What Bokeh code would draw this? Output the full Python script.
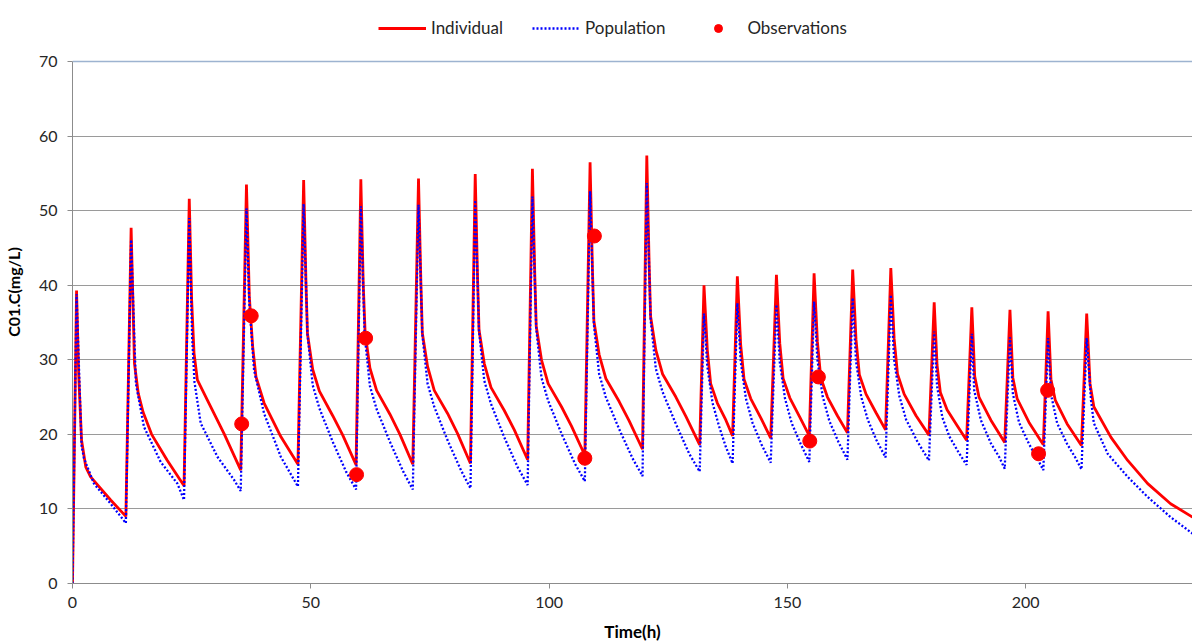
from bokeh.plotting import figure
from bokeh.models import Legend, LegendItem, Span, FixedTicker, Range1d
from bokeh.embed import file_html
from bokeh.resources import INLINE

# ---------------- data ----------------
ind_time = [0, 0.85, 1.3, 1.9, 2.8, 3.8, 8.0, 11.2,
            12.3, 13.0, 13.8, 14.8, 16.6, 19.9, 23.4,
            24.5, 25.0, 25.5, 26.2, 28.3, 31.8, 35.3,
            36.5, 37.1, 37.8, 38.5, 40.2, 43.7, 47.3,
            48.5, 49.0, 49.3, 50.4, 51.8, 54.6, 56.7, 59.5,
            60.5, 61.0, 61.4, 62.4, 63.8, 66.6, 68.7, 71.4,
            72.6, 73.1, 73.4, 74.5, 75.9, 78.7, 80.8, 83.5,
            84.5, 85.0, 85.3, 86.4, 87.8, 90.6, 92.7, 95.5,
            96.5, 97.0, 97.3, 98.4, 99.8, 102.6, 104.7, 107.5,
            108.6, 109.1, 109.4, 110.5, 111.9, 114.7, 116.8, 119.6,
            120.5, 121.0, 121.3, 122.4, 123.8, 126.6, 128.7, 131.6,
            132.5, 133.2, 133.9, 135.3, 137.1, 138.5,
            139.5, 140.2, 140.9, 142.3, 144.5, 146.5,
            147.7, 148.4, 149.1, 150.5, 152.6, 154.6,
            155.6, 156.3, 157.0, 158.4, 160.5, 162.6,
            163.7, 164.4, 165.1, 166.5, 168.6, 170.6,
            171.7, 172.4, 173.1, 174.5, 177.0, 179.7,
            180.8, 181.4, 182.1, 183.5, 185.5, 187.6,
            188.7, 189.3, 190.2, 192.7, 195.6,
            196.7, 197.3, 198.2, 200.7, 203.7,
            204.7, 205.3, 206.2, 208.7, 211.7,
            212.8, 213.5, 214.3, 217.9, 221.4, 225.6, 230.4, 235.0]
ind_conc = [0, 39.3, 28.0, 19.2, 15.6, 14.3, 11.2, 9.0,
            47.7, 29.5, 25.5, 23.0, 20.0, 16.5, 13.1,
            51.6, 38.0, 30.9, 27.3, 24.6, 20.1, 15.2,
            53.5, 38.5, 31.8, 27.7, 24.2, 19.7, 16.0,
            54.1, 40.0, 33.5, 28.7, 25.8, 22.5, 19.9, 15.9,
            54.2, 40.2, 33.6, 28.9, 25.9, 22.7, 20.0, 16.0,
            54.3, 40.3, 33.6, 29.1, 25.9, 22.8, 20.1, 16.1,
            54.9, 40.7, 34.0, 29.5, 26.3, 23.2, 20.6, 16.6,
            55.6, 41.3, 34.5, 30.0, 26.8, 23.7, 21.1, 17.2,
            56.5, 42.0, 35.2, 30.7, 27.5, 24.4, 21.8, 18.0,
            57.4, 42.6, 35.8, 31.3, 28.1, 25.0, 22.4, 18.6,
            40.0, 31.3, 26.8, 24.2, 21.9, 19.8,
            41.2, 32.0, 27.4, 24.8, 22.1, 19.5,
            41.4, 32.2, 27.5, 24.9, 22.3, 19.8,
            41.6, 32.4, 27.6, 25.0, 22.5, 20.2,
            42.1, 32.7, 28.0, 25.4, 22.9, 20.6,
            42.3, 32.8, 28.1, 25.4, 22.5, 19.9,
            37.7, 29.3, 25.6, 23.3, 21.3, 19.2,
            37.05, 27.8, 25.0, 21.9, 18.9,
            36.7, 27.6, 24.8, 21.6, 18.6,
            36.5, 27.4, 24.6, 21.4, 18.5,
            36.2, 26.8, 23.7, 19.6, 16.5, 13.4, 10.7, 8.9]

pop_time = [0, 0.85, 1.9, 2.4, 4.5, 8.0, 11.2,
            12.3, 13.3, 15.0, 18.5, 22.0, 23.4,
            24.5, 25.1, 25.6, 26.9, 30.4, 33.9, 35.3,
            36.5, 37.1, 38.1, 40.2, 43.7, 47.3,
            48.5, 49.3, 50.4, 51.8, 54.6, 57.4, 59.5,
            60.5, 61.3, 62.4, 63.8, 66.6, 69.4, 71.4,
            72.6, 73.4, 74.5, 75.9, 78.7, 81.5, 83.5,
            84.5, 85.3, 86.4, 87.8, 90.6, 93.4, 95.5,
            96.5, 97.3, 98.4, 99.8, 102.6, 105.4, 107.5,
            108.6, 109.4, 110.5, 111.9, 114.7, 117.5, 119.6,
            120.5, 121.3, 122.4, 123.8, 126.6, 129.4, 131.6,
            132.5, 133.2, 134.3, 135.7, 137.1, 138.5,
            139.5, 140.2, 141.3, 142.7, 144.6, 146.5,
            147.7, 148.4, 149.5, 150.9, 152.8, 154.6,
            155.6, 156.3, 157.4, 158.8, 160.7, 162.6,
            163.7, 164.4, 165.5, 166.9, 168.7, 170.6,
            171.7, 172.4, 173.5, 174.9, 177.3, 179.7,
            180.8, 181.4, 182.5, 184.0, 185.9, 187.6,
            188.7, 189.2, 190.6, 192.7, 194.4, 195.6,
            196.7, 197.3, 198.6, 200.7, 202.4, 203.7,
            204.7, 205.3, 206.6, 208.7, 210.4, 211.7,
            212.8, 213.7, 214.3, 217.2, 221.4, 225.6, 230.4, 235.0]
pop_conc = [0, 38.8, 18.5, 16.8, 13.4, 10.7, 8.1,
            46.1, 26.8, 21.0, 16.3, 13.4, 11.2,
            49.0, 33.0, 27.0, 21.5, 17.0, 13.9, 12.4,
            50.3, 37.6, 28.6, 22.8, 17.0, 13.0,
            50.9, 33.5, 26.6, 23.5, 19.0, 15.0, 12.6,
            50.6, 33.3, 26.5, 23.4, 19.0, 15.0, 12.6,
            50.8, 33.4, 26.8, 23.7, 19.2, 15.2, 12.75,
            51.4, 33.8, 27.2, 24.1, 19.6, 15.6, 13.2,
            51.9, 34.2, 27.6, 24.5, 20.1, 16.1, 13.7,
            52.6, 34.7, 28.1, 25.0, 20.7, 16.8, 14.4,
            53.7, 35.4, 28.8, 25.7, 21.4, 17.4, 15.0,
            36.2, 29.1, 24.2, 21.0, 18.3, 16.1,
            37.6, 29.8, 24.8, 21.5, 18.6, 16.2,
            37.4, 29.7, 24.8, 21.5, 18.7, 16.3,
            37.8, 30.0, 25.1, 21.8, 19.0, 16.6,
            38.3, 29.8, 25.0, 21.9, 19.2, 16.9,
            38.7, 30.0, 25.1, 22.0, 19.0, 16.5,
            33.8, 26.5, 22.3, 19.7, 17.6, 15.9,
            33.5, 25.9, 21.9, 18.8, 17.0, 15.4,
            33.0, 25.5, 21.6, 18.7, 16.8, 15.2,
            32.9, 25.4, 21.5, 18.7, 16.9, 15.3,
            32.9, 24.6, 21.5, 17.4, 14.3, 11.6, 8.9, 6.7]

obs_time = [35.5, 37.5, 59.6, 61.5, 107.5, 109.5, 154.7, 156.5, 202.7, 204.6]
obs_conc = [21.4, 35.9, 14.6, 32.9, 16.8, 46.6, 19.1, 27.7, 17.4, 25.9]

x_ticks = [0, 50, 100, 150, 200]
y_ticks = [0, 10, 20, 30, 40, 50, 60, 70]

FONT = "Lato"

# frame reaches the top of the page so the legend can sit above the 70 line
p = figure(width=1192, height=644, output_backend="svg", toolbar_location=None,
           x_range=Range1d(0, 235), y_range=Range1d(0, 78.18),
           min_border_left=71, min_border_right=0, min_border_top=0,
           min_border_bottom=61)
p.outline_line_color = None
p.background_fill_color = "white"
p.border_fill_color = "white"

r_ind = p.line(ind_time, ind_conc, line_color="#FF0000", line_width=2.8)
r_pop = p.line(pop_time, pop_conc, line_color="#0000FF", line_width=2.3,
               line_dash="2 2")
r_obs = p.scatter(obs_time, obs_conc, size=14, fill_color="#FF0000",
                  line_color="#FF0000")

p.add_layout(Span(location=70, dimension="width", line_color="#9DB3D0",
                  line_width=1.5))

p.xgrid.grid_line_color = None
p.ygrid.grid_line_color = "#9A9A9A"
p.ygrid.grid_line_width = 1

p.xaxis.ticker = FixedTicker(ticks=x_ticks)
p.yaxis.ticker = FixedTicker(ticks=y_ticks)
p.yaxis.bounds = (0, 70)
for ax in (p.xaxis[0], p.yaxis[0]):
    ax.axis_line_color = "#8C8C8C"
    ax.major_tick_line_color = "#8C8C8C"
    ax.major_tick_out = 5
    ax.major_tick_in = 0
    ax.minor_tick_line_color = None
    ax.major_label_text_font = FONT
    ax.major_label_text_font_size = "16px"
    ax.major_label_text_color = "#262626"
    ax.axis_label_text_font = FONT
    ax.axis_label_text_font_style = "bold"
    ax.axis_label_text_color = "#000000"
p.xaxis.axis_label = "Time(h)"
p.yaxis.axis_label = "C01.C(mg/L)"
p.xaxis.axis_label_text_font_size = "17px"
p.yaxis.axis_label_text_font_size = "16px"
p.xaxis.major_label_standoff = 8
p.xaxis.axis_label_standoff = 10
p.yaxis.major_label_standoff = 10
p.yaxis.axis_label_standoff = 13

legend = Legend(items=[LegendItem(label="Individual", renderers=[r_ind]),
                       LegendItem(label="Population", renderers=[r_pop]),
                       LegendItem(label="Observations", renderers=[r_obs])],
                orientation="horizontal", location=(306, 545),
                border_line_color=None, background_fill_alpha=0,
                glyph_width=48, glyph_height=20, label_standoff=5,
                spacing=29, padding=5, margin=0,
                label_text_font=FONT, label_text_font_size="17px",
                label_text_color="#262626")
p.add_layout(legend)

open("out.html", "w").write(file_html(p, INLINE))
